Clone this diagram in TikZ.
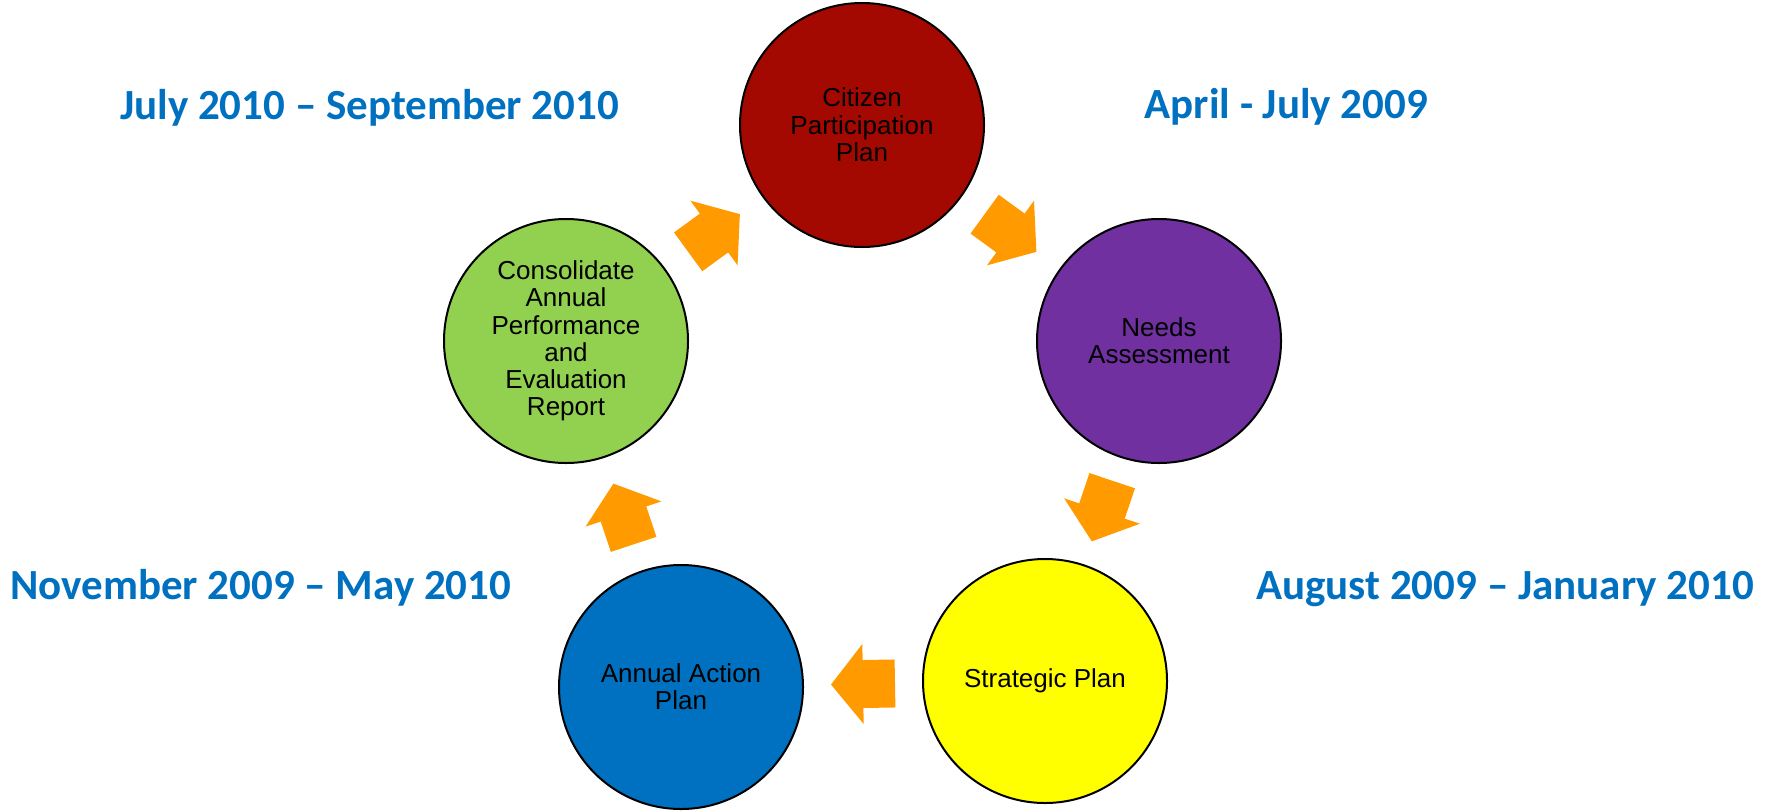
\documentclass[tikz,border=0pt]{standalone}
\usepackage{fontspec}
\setmainfont{Liberation Sans}
\newfontfamily\datefont{Carlito}
\usetikzlibrary{calc}

\definecolor{citred}{RGB}{163,9,0}
\definecolor{needpurple}{RGB}{112,48,160}
\definecolor{stratyellow}{RGB}{255,255,0}
\definecolor{actblue}{RGB}{0,112,192}
\definecolor{capergreen}{RGB}{146,208,80}
\definecolor{dateblue}{RGB}{0,112,192}
\definecolor{flowarrow}{RGB}{255,155,0}

% block arrow half-way between two stages, pointing from #1 to #2
\newcommand\blockarrow[3]{%
  \coordinate (#3m) at ($(#1)!0.5!(#2)$);
  \coordinate (#3t) at ($(#3m)!-32pt!(#2)$);
  \fill[flowarrow]
    ($(#3t)!24pt!90:(#2)$) -- ($(#3m)!24pt!90:(#2)$) -- ($(#3m)!40pt!90:(#2)$)
    -- ($(#3m)!32pt!(#2)$)
    -- ($(#3m)!40pt!-90:(#2)$) -- ($(#3m)!24pt!-90:(#2)$) -- ($(#3t)!24pt!-90:(#2)$)
    -- cycle;}

\begin{document}
\begin{tikzpicture}[x=1pt,y=-1pt,
  stage/.style={circle, draw=black, line width=2pt, minimum size=244pt,
    inner sep=0pt, align=center, text=black,
    font=\fontsize{26}{27.3}\selectfont},
  period/.style={text=dateblue, anchor=base, inner sep=0pt,
    font=\datefont\bfseries\fontsize{43}{50}\selectfont}]
\useasboundingbox (0,0) rectangle (1771,811);

% the five stages of the cycle
\node[stage, fill=citred]      (cpp)   at (862,125)  {Citizen\\Participation\\Plan};
\node[stage, fill=needpurple]  (na)    at (1159,341) {Needs\\Assessment};
\node[stage, fill=stratyellow] (sp)    at (1045,681) {Strategic Plan};
\node[stage, fill=actblue]     (aap)   at (681,687)  {Annual Action\\Plan};
\node[stage, fill=capergreen]  (caper) at (566,341)  {Consolidate\\Annual\\Performance\\and\\Evaluation\\Report};

% arrows leading round the cycle
\blockarrow{cpp}{na}{a1}
\blockarrow{na}{sp}{a2}
\blockarrow{sp}{aap}{a3}
\blockarrow{aap}{caper}{a4}
\blockarrow{caper}{cpp}{a5}

% time periods
\node[period] (p1) at (369.5,119.3) {July 2010 – September 2010};
\node[period] (p2) at (1286.4,118.3) {April - July 2009};
\node[period] (p3) at (260.8,599.3) {November 2009 – May 2010};
\node[period] (p4) at (1505,599.3) {August 2009 – January 2010};
\end{tikzpicture}
\end{document}
